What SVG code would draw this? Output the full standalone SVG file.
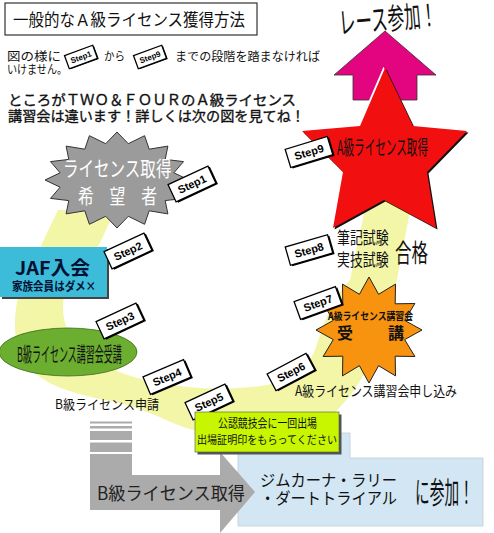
<svg xmlns="http://www.w3.org/2000/svg" width="494" height="533" viewBox="0 0 494 533">
<style>
text{font-family:"Noto Sans CJK JP","Noto Sans",sans-serif;fill:#111}
.tag{fill:#fff;stroke:#000;stroke-width:1.3}
.tsh{fill:#000}
.tagt{font-family:"Liberation Sans",Arial,sans-serif;font-weight:bold;font-size:11px;text-anchor:middle;fill:#000}
.stagt{font-family:"Liberation Sans",Arial,sans-serif;font-weight:bold;font-size:8px;text-anchor:middle;fill:#000}
.thick{stroke:#111;stroke-width:0.35}
</style>
<defs>
<polygon id="redstar" points="385,68 413,126 467,131 427,172 436,228 384,200 333,228 343,172 302,131 360,126"/>
</defs>
<rect width="494" height="533" fill="#fff"/>

<g id="connectors">
<path d="M58,210 L115,210 L100,243 C80,270 62,285 63,310 C64,340 90,368 150,381 C190,390 230,390 260,386 C290,382 305,372 315,350 C322,330 330,300 350,280 L368,195 L413,195 L395,290 C385,335 365,385 335,412 C305,432 260,437 215,434 C175,430 155,410 115,402 C60,392 22,378 16,340 C12,310 20,280 35,258 Z" fill="#f2f6a6"/>
</g>

<g id="title">
<rect x="5" y="3" width="252" height="32" fill="#fff" stroke="#333" stroke-width="1.2"/>
<text x="13" y="26" font-size="16.5" textLength="232" lengthAdjust="spacingAndGlyphs">一般的なＡ級ライセンス獲得方法</text>
</g>

<g id="intro">
<text x="7" y="61" font-size="12" textLength="54" lengthAdjust="spacingAndGlyphs">図の様に</text>
<g transform="translate(81,57) rotate(-20)"><rect class="tsh" x="-14" y="-6" width="30" height="14"/><rect class="tag" x="-15" y="-7" width="30" height="14"/><text class="stagt" y="3">Step1</text></g>
<text x="104" y="61" font-size="12" textLength="21" lengthAdjust="spacingAndGlyphs">から</text>
<g transform="translate(150,57) rotate(-20)"><rect class="tsh" x="-14" y="-6" width="30" height="14"/><rect class="tag" x="-15" y="-7" width="30" height="14"/><text class="stagt" y="3">Step9</text></g>
<text x="175" y="61" font-size="12" textLength="145" lengthAdjust="spacingAndGlyphs">までの段階を踏まなければ</text>
<text x="7" y="74" font-size="12" textLength="60" lengthAdjust="spacingAndGlyphs">いけません。</text>
<text class="thick" x="8" y="105" font-size="14" textLength="288" lengthAdjust="spacingAndGlyphs">ところがＴＷＯ＆ＦＯＵＲのＡ級ライセンス</text>
<text class="thick" x="8" y="121" font-size="14" textLength="297" lengthAdjust="spacingAndGlyphs">講習会は違います！詳しくは次の図を見てね！</text>
</g>

<g id="race">
<polygon points="385,31 436,75 417,75 417,100 353,100 353,75 334,75" fill="#e2057f" stroke="#333" stroke-width="0.8"/>
<text font-size="30" transform="translate(340,34) rotate(-5) scale(0.55,1)">レース参加！</text>
</g>

<g id="astar">
<use href="#redstar" transform="translate(-1.5,-1.2)" fill="#fff"/>
<use href="#redstar" transform="translate(1.5,1.5)" fill="#111"/>
<use href="#redstar" fill="#f20f0f"/>
<text font-size="20" transform="translate(337,155) scale(0.53,1)">A級ライセンス取得</text>
</g>

<g id="exam">
<text font-size="17" transform="translate(337,244) scale(0.76,1)">筆記試験</text>
<text font-size="17" transform="translate(337,266) scale(0.76,1)">実技試験</text>
<text font-size="25" transform="translate(395,262) scale(0.66,1)">合格</text>
</g>

<g id="applicant">
<polygon points="189,180 173.9,187.2 183.5,198.4 165.2,200.6 167.9,213.9 149.2,210.8 144.6,224.3 128.3,216.3 117,228 105.7,216.3 89.4,224.3 84.8,210.8 66.1,213.9 68.8,200.6 50.5,198.4 60.1,187.2 45,180 60.1,172.8 50.5,161.6 68.8,159.4 66.1,146.1 84.8,149.2 89.4,135.7 105.7,143.7 117,132 128.3,143.7 144.6,135.7 149.2,149.2 167.9,146.1 165.2,159.4 183.5,161.6 173.9,172.8" fill="#9b9b9b" stroke="#333" stroke-width="1"/>
<text font-size="21" transform="translate(63,176) scale(0.74,1)" style="fill:#fff">ライセンス取得</text>
<text font-size="20" transform="translate(78,204) scale(0.79,1)" style="fill:#fff">希　望　者</text>
</g>

<g id="jaf">
<rect x="2" y="249" width="107" height="50" fill="#444"/>
<rect x="0" y="247" width="107" height="50" fill="#3dbcd9"/>
<text x="15" y="275" font-size="19" font-weight="bold" textLength="75" lengthAdjust="spacingAndGlyphs" style="fill:#001133">JAF入会</text>
<text x="12" y="291" font-size="12" font-weight="bold" textLength="84" lengthAdjust="spacingAndGlyphs" style="fill:#001133">家族会員はダメ×</text>
</g>

<g id="bcourse">
<ellipse cx="68" cy="352" rx="69" ry="24" fill="#6cae30" stroke="#3d6b18" stroke-width="0.8"/>
<text font-size="20" transform="translate(17,362) scale(0.45,1)">B級ライセンス講習会受講</text>
</g>

<g id="bapply">
<text x="55" y="409" font-size="13" textLength="104" lengthAdjust="spacingAndGlyphs">B級ライセンス申請</text>
</g>

<g id="acourse">
<polygon points="369,277 378.6,294.3 395.5,284.1 395.2,303.8 414.9,303.5 404.7,320.4 422,330 404.7,339.6 414.9,356.5 395.2,356.2 395.5,375.9 378.6,365.7 369,383 359.4,365.7 342.5,375.9 342.8,356.2 323.1,356.5 333.3,339.6 316,330 333.3,320.4 323.1,303.5 342.8,303.8 342.5,284.1 359.4,294.3" fill="#f7930e" stroke="#222" stroke-width="1"/>
<text x="328" y="320" font-size="10.5" font-weight="bold" textLength="85" lengthAdjust="spacingAndGlyphs">A級ライセンス講習会</text>
<text x="337" y="339" font-size="16" font-weight="bold">受</text>
<text x="388" y="339" font-size="16" font-weight="bold">講</text>
</g>

<g id="aapply">
<text x="295" y="396" font-size="14" textLength="162" lengthAdjust="spacingAndGlyphs">A級ライセンス講習会申し込み</text>
</g>

<g id="events">
<path d="M238,433 L350,433 L350,458 L483,458 L483,526 L238,526 Z" fill="#d2e7f3" stroke="#c4ccd2" stroke-width="0.8"/>
<text x="260" y="486" font-size="16" textLength="137" lengthAdjust="spacingAndGlyphs">ジムカーナ・ラリー</text>
<text x="260" y="504" font-size="16" textLength="137" lengthAdjust="spacingAndGlyphs">・ダートトライアル</text>
<text font-size="30" transform="translate(415,503) scale(0.49,1)">に参加！</text>
</g>

<g id="bget">
<rect x="90" y="421.5" width="42" height="2" fill="#ababab"/>
<rect x="90" y="426" width="42" height="2.5" fill="#ababab"/>
<rect x="90" y="431" width="42" height="9" fill="#ababab"/>
<rect x="90" y="442.5" width="42" height="9.5" fill="#ababab"/>
<path d="M90,454 L132,454 L132,475 L220,475 L220,452 L255,492 L220,533 L220,510 L90,510 Z" fill="#ababab"/>
<text x="97" y="500" font-size="18" textLength="148" lengthAdjust="spacingAndGlyphs" style="fill:#222">B級ライセンス取得</text>
</g>

<g id="steps">
<g transform="translate(192,184) rotate(-25)"><rect class="tsh" x="-20.5" y="-8" width="44" height="19"/><rect class="tag" x="-22" y="-9.5" width="44" height="19"/><text class="tagt" y="4">Step1</text></g>
<g transform="translate(128,251) rotate(-25)"><rect class="tsh" x="-20.5" y="-8" width="44" height="19"/><rect class="tag" x="-22" y="-9.5" width="44" height="19"/><text class="tagt" y="4">Step2</text></g>
<g transform="translate(120,321) rotate(-25)"><rect class="tsh" x="-20.5" y="-8" width="44" height="19"/><rect class="tag" x="-22" y="-9.5" width="44" height="19"/><text class="tagt" y="4">Step3</text></g>
<g transform="translate(167,377) rotate(-23)"><rect class="tsh" x="-20.5" y="-8" width="44" height="19"/><rect class="tag" x="-22" y="-9.5" width="44" height="19"/><text class="tagt" y="4">Step4</text></g>
<g transform="translate(209,402) rotate(-25)"><rect class="tsh" x="-20.5" y="-8" width="44" height="19"/><rect class="tag" x="-22" y="-9.5" width="44" height="19"/><text class="tagt" y="4">Step5</text></g>
<g transform="translate(291,372) rotate(-28)"><rect class="tsh" x="-20.5" y="-8" width="44" height="19"/><rect class="tag" x="-22" y="-9.5" width="44" height="19"/><text class="tagt" y="4">Step6</text></g>
<g transform="translate(318,303) rotate(-20)"><rect class="tsh" x="-20.5" y="-8" width="44" height="19"/><rect class="tag" x="-22" y="-9.5" width="44" height="19"/><text class="tagt" y="4">Step7</text></g>
<g transform="translate(309,250) rotate(-16)"><rect class="tsh" x="-20.5" y="-8" width="44" height="19"/><rect class="tag" x="-22" y="-9.5" width="44" height="19"/><text class="tagt" y="4">Step8</text></g>
<g transform="translate(309,152) rotate(-17)"><rect class="tsh" x="-20.5" y="-8" width="44" height="19"/><rect class="tag" x="-22" y="-9.5" width="44" height="19"/><text class="tagt" y="4">Step9</text></g>
</g>

<g id="proof">
<rect x="197.5" y="414.5" width="144" height="40" fill="#555"/>
<rect x="195" y="412" width="144" height="40" fill="#c8f500" stroke="#555" stroke-width="0.6"/>
<text x="218" y="428" font-size="12.5" textLength="99" lengthAdjust="spacingAndGlyphs">公認競技会に一回出場</text>
<text x="197" y="444" font-size="11" textLength="140" lengthAdjust="spacingAndGlyphs">出場証明印をもらってください</text>
</g>
</svg>
